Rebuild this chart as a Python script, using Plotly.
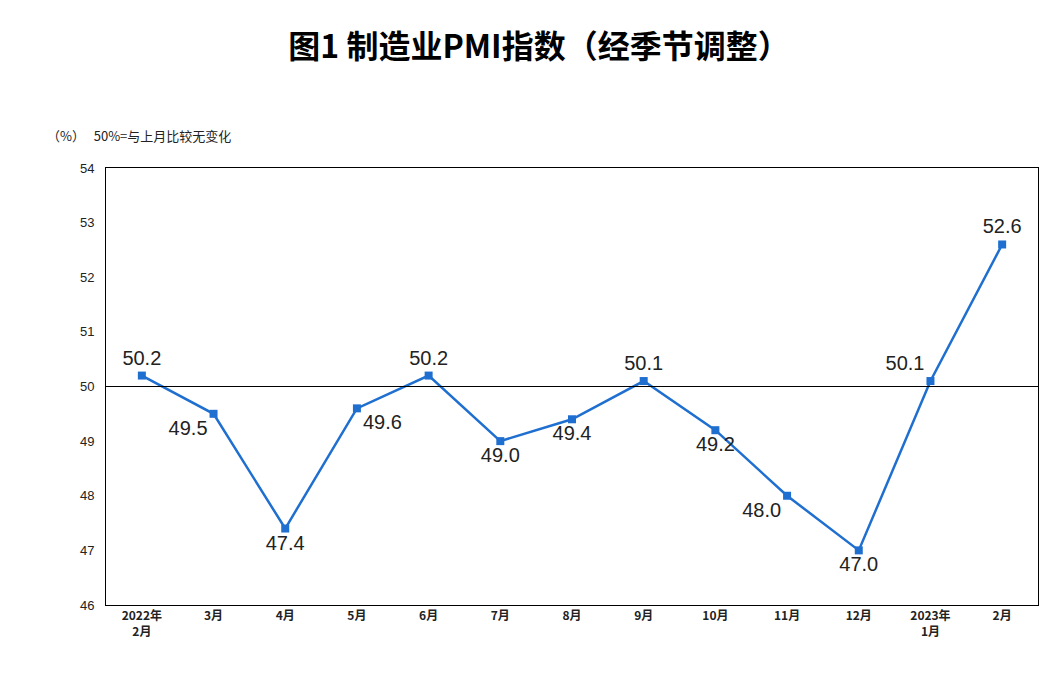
import plotly.graph_objects as go

months = ["2022年<br>2月", "3月", "4月", "5月", "6月", "7月", "8月", "9月", "10月", "11月", "12月", "2023年<br>1月", "2月"]
pmi = [50.2, 49.5, 47.4, 49.6, 50.2, 49.0, 49.4, 50.1, 49.2, 48.0, 47.0, 50.1, 52.6]
label_pos = ["top center", "bottom left", "bottom center", "bottom right", "top center", "bottom center",
             "bottom center", "top center", "bottom center", "bottom left", "bottom center", "top left", "top center"]

x = list(range(len(months)))
fig = go.Figure()
fig.add_trace(go.Scatter(
    x=x, y=pmi, mode="lines+markers+text",
    line=dict(color="#1F6FD0", width=2.5),
    marker=dict(symbol="square", size=8, color="#1F6FD0"),
    text=[f"{v:.1f}" for v in pmi], textposition=label_pos,
    textfont=dict(family="Arial, Liberation Sans", size=20, color="#222"),
    cliponaxis=False, showlegend=False,
))
fig.add_hline(y=50, line=dict(color="black", width=1.2))

fig.update_layout(
    width=1062, height=680,
    plot_bgcolor="white", paper_bgcolor="white",
    margin=dict(l=98, r=32, t=160, b=83),
    title=dict(text="<b>图1 制造业PMI指数（经季节调整）</b>", x=0.5, y=0.96,
               font=dict(family="Noto Sans CJK SC", size=32, color="black")),
    xaxis=dict(tickvals=x, ticktext=[f"<b>{m}</b>" for m in months], range=[-0.5, 12.5],
               showline=True, mirror=True, linecolor="black", showgrid=False, ticks="",
               tickfont=dict(family="Noto Sans CJK SC", size=12, color="#222")),
    yaxis=dict(range=[46, 54], dtick=1, showline=True, mirror=True, linecolor="black",
               showgrid=False, ticks="outside", ticklen=8, tickcolor="white", zeroline=False,
               tickfont=dict(family="Arial, Liberation Sans", size=13, color="#222")),
    annotations=[dict(text="（%）   50%=与上月比较无变化", xref="paper", yref="paper",
                      x=-0.065, y=1.1, xanchor="left", showarrow=False,
                      font=dict(family="Noto Sans CJK SC", size=13, color="#222"))],
)
fig.write_html("out.html")
